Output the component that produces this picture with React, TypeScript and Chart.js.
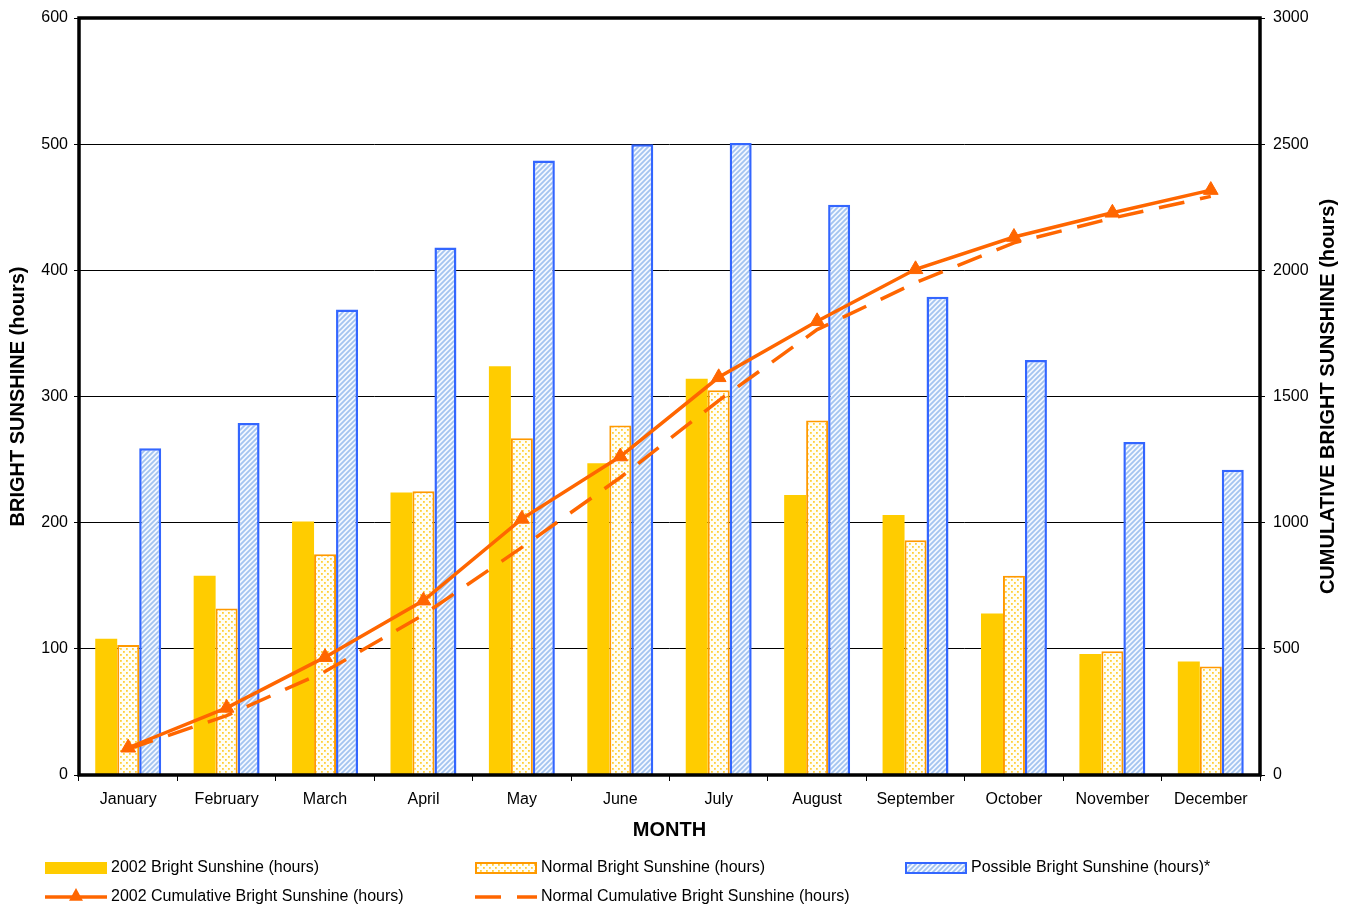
import React, { useEffect, useRef } from "react";
import { Chart, registerables } from "chart.js";

Chart.register(...registerables);

const months = [
  "January", "February", "March", "April", "May", "June",
  "July", "August", "September", "October", "November", "December",
];
const sunshine2002 = [108, 158, 201, 224, 324, 247, 314, 222, 206, 128, 96, 90];
const sunshineNormal = [103, 132, 175, 225, 267, 277, 305, 281, 186, 158, 98, 86];
const sunshinePossible = [259, 279, 369, 418, 487, 500, 501, 452, 379, 329, 264, 242];
const cumulative2002 = [108, 266, 467, 691, 1015, 1262, 1576, 1798, 2004, 2132, 2228, 2318];
const cumulativeNormal = [103, 235, 410, 635, 902, 1179, 1484, 1765, 1951, 2109, 2207, 2293];
const leftTicks = { min: 0, max: 600, step: 100 };
const rightTicks = { min: 0, max: 3000, step: 500 };

const FONT = '"Liberation Sans", Arial, Helvetica, sans-serif';
const YELLOW = "#FFCC00";
const ORANGE_BORDER = "#FF9900";
const BLUE = "#3366FF";
const LINE_ORANGE = "#FF6600";
const DASH = [26, 16];

function makeDotPattern(ctx: CanvasRenderingContext2D) {
  const c = document.createElement("canvas");
  c.width = 6;
  c.height = 6;
  const g = c.getContext("2d")!;
  g.fillStyle = "#FFFEF6";
  g.fillRect(0, 0, 6, 6);
  g.fillStyle = "#FFCF3A";
  g.fillRect(0, 0, 1.8, 1.8);
  g.fillRect(3, 3, 1.8, 1.8);
  return ctx.createPattern(c, "repeat")!;
}

function makeHatchPattern(ctx: CanvasRenderingContext2D) {
  const s = 5;
  const c = document.createElement("canvas");
  c.width = s;
  c.height = s;
  const g = c.getContext("2d")!;
  g.fillStyle = "#F4F8FF";
  g.fillRect(0, 0, s, s);
  g.strokeStyle = "#A3C4F0";
  g.lineWidth = 1.8;
  g.beginPath();
  g.moveTo(-1, s + 1);
  g.lineTo(s + 1, -1);
  g.moveTo(-1, 1);
  g.lineTo(1, -1);
  g.moveTo(s - 1, s + 1);
  g.lineTo(s + 1, s - 1);
  g.stroke();
  return ctx.createPattern(c, "repeat")!;
}

function drawTriangle(ctx: CanvasRenderingContext2D, x: number, y: number, r: number) {
  ctx.beginPath();
  ctx.moveTo(x, y - r);
  ctx.lineTo(x + r * 0.87, y + r * 0.6);
  ctx.lineTo(x - r * 0.87, y + r * 0.6);
  ctx.closePath();
  ctx.fill();
}

export default function App() {
  const canvasRef = useRef<HTMLCanvasElement | null>(null);

  useEffect(() => {
    const canvas = canvasRef.current;
    if (!canvas) return;
    const ctx = canvas.getContext("2d")!;
    const dots = makeDotPattern(ctx);
    const hatch = makeHatchPattern(ctx);

    const legendItems = [
      { kind: "box", fill: YELLOW, stroke: null, text: "2002 Bright Sunshine (hours)" },
      { kind: "box", fill: dots, stroke: ORANGE_BORDER, text: "Normal Bright Sunshine (hours)" },
      { kind: "box", fill: hatch, stroke: BLUE, text: "Possible Bright Sunshine (hours)*" },
      { kind: "marker", text: "2002 Cumulative Bright Sunshine (hours)" },
      { kind: "dash", text: "Normal Cumulative Bright Sunshine (hours)" },
    ];

    const framePlugin = {
      id: "frameAndLegend",
      afterDraw(chart: any) {
        const c = chart.ctx as CanvasRenderingContext2D;
        const a = chart.chartArea;
        c.save();
        // plot frame
        c.strokeStyle = "#000";
        c.lineWidth = 3.5;
        c.strokeRect(a.left, a.top, a.right - a.left, a.bottom - a.top);

        // right axis title, reading bottom to top
        c.fillStyle = "#000";
        c.font = `bold 20px ${FONT}`;
        c.textAlign = "center";
        c.textBaseline = "middle";
        c.translate(chart.width - 23, (a.top + a.bottom) / 2);
        c.rotate(-Math.PI / 2);
        c.fillText("CUMULATIVE BRIGHT SUNSHINE (hours)", 0, 0);
        c.restore();

        // legend
        c.save();
        c.font = `16px ${FONT}`;
        c.textBaseline = "middle";
        c.textAlign = "left";
        const colX = [45, 475, 905];
        const rowY = [a.bottom + 93, a.bottom + 122];
        legendItems.forEach((it: any, i) => {
          const x = colX[i % 3];
          const y = rowY[Math.floor(i / 3)];
          const w = 62;
          if (it.kind === "box") {
            c.fillStyle = it.fill;
            c.fillRect(x, y - 6, w, 12);
            if (it.stroke) {
              c.strokeStyle = it.stroke;
              c.lineWidth = 2;
              c.strokeRect(x + 1, y - 5, w - 2, 10);
            }
          } else if (it.kind === "marker") {
            c.strokeStyle = LINE_ORANGE;
            c.fillStyle = LINE_ORANGE;
            c.lineWidth = 3.5;
            c.beginPath();
            c.moveTo(x, y);
            c.lineTo(x + w, y);
            c.stroke();
            drawTriangle(c, x + w / 2, y - 1, 8);
          } else {
            c.strokeStyle = LINE_ORANGE;
            c.lineWidth = 3.5;
            c.beginPath();
            c.moveTo(x, y);
            c.lineTo(x + 26, y);
            c.moveTo(x + 42, y);
            c.lineTo(x + w, y);
            c.stroke();
          }
          c.fillStyle = "#000";
          c.fillText(it.text, x + w + 4, y);
        });
        c.restore();
      },
    };

    const tickFont = { family: FONT, size: 16 };
    const titleFont = { family: FONT, size: 20, weight: "bold" as const };
    const plainNumber = (v: any) => String(v);

    const chart = new Chart(ctx, {
      type: "bar",
      data: {
        labels: months,
        datasets: [
          {
            type: "line",
            label: "2002 Cumulative Bright Sunshine (hours)",
            data: cumulative2002,
            yAxisID: "y1",
            borderColor: LINE_ORANGE,
            backgroundColor: LINE_ORANGE,
            borderWidth: 3.5,
            pointStyle: "triangle",
            pointRadius: 8.5,
            pointBorderWidth: 1,
            tension: 0,
            order: 1,
          },
          {
            type: "line",
            label: "Normal Cumulative Bright Sunshine (hours)",
            data: cumulativeNormal,
            yAxisID: "y1",
            borderColor: LINE_ORANGE,
            borderWidth: 3.5,
            borderDash: DASH,
            pointRadius: 0,
            tension: 0,
            order: 1,
          },
          {
            type: "bar",
            label: "2002 Bright Sunshine (hours)",
            data: sunshine2002,
            yAxisID: "y",
            backgroundColor: YELLOW,
            borderWidth: 0,
            order: 2,
          },
          {
            type: "bar",
            label: "Normal Bright Sunshine (hours)",
            data: sunshineNormal,
            yAxisID: "y",
            backgroundColor: dots,
            borderColor: ORANGE_BORDER,
            borderWidth: 2,
            order: 2,
          },
          {
            type: "bar",
            label: "Possible Bright Sunshine (hours)*",
            data: sunshinePossible,
            yAxisID: "y",
            backgroundColor: hatch,
            borderColor: BLUE,
            borderWidth: 2.5,
            order: 2,
          },
        ] as any,
      },
      options: {
        responsive: true,
        maintainAspectRatio: false,
        animation: false,
        events: [],
        devicePixelRatio: 1,
        datasets: {
          bar: { categoryPercentage: 0.67, barPercentage: 1.0 },
        },
        layout: { padding: { top: 18, bottom: 60, left: 0, right: 0 } },
        plugins: {
          legend: { display: false },
          tooltip: { enabled: false },
        },
        scales: {
          x: {
            grid: {
              drawOnChartArea: false,
              drawTicks: true,
              tickLength: 6,
              color: "#000",
              lineWidth: 1,
              offset: true,
            },
            border: { display: false },
            ticks: { font: tickFont, color: "#000", padding: 9, maxRotation: 0, autoSkip: false },
            title: {
              display: true,
              text: "MONTH",
              font: titleFont,
              color: "#000",
              padding: { top: 0, bottom: 3 },
            },
            afterFit: (s: any) => {
              s.height = 70;
            },
          },
          y: {
            position: "left",
            min: leftTicks.min,
            max: leftTicks.max,
            ticks: { stepSize: leftTicks.step, font: tickFont, color: "#000", padding: 6, callback: plainNumber },
            grid: { color: "#000", lineWidth: 1, tickLength: 5 },
            border: { display: false },
            title: {
              display: true,
              text: "BRIGHT SUNSHINE (hours)",
              font: titleFont,
              color: "#000",
              padding: { top: 6, bottom: 0 },
            },
            afterFit: (s: any) => {
              s.width = 79;
            },
          },
          y1: {
            position: "right",
            min: rightTicks.min,
            max: rightTicks.max,
            ticks: { stepSize: rightTicks.step, font: tickFont, color: "#000", padding: 8, callback: plainNumber },
            grid: { drawOnChartArea: false, color: "#000", lineWidth: 1, tickLength: 5 },
            border: { display: false },
            afterFit: (s: any) => {
              s.width = 91;
            },
          },
        },
      } as any,
      plugins: [framePlugin],
    });

    return () => chart.destroy();
  }, []);

  return (
    <div style={{ position: "absolute", left: 0, top: 0, width: 1351, height: 905, background: "#fff" }}>
      <canvas ref={canvasRef} />
    </div>
  );
}
